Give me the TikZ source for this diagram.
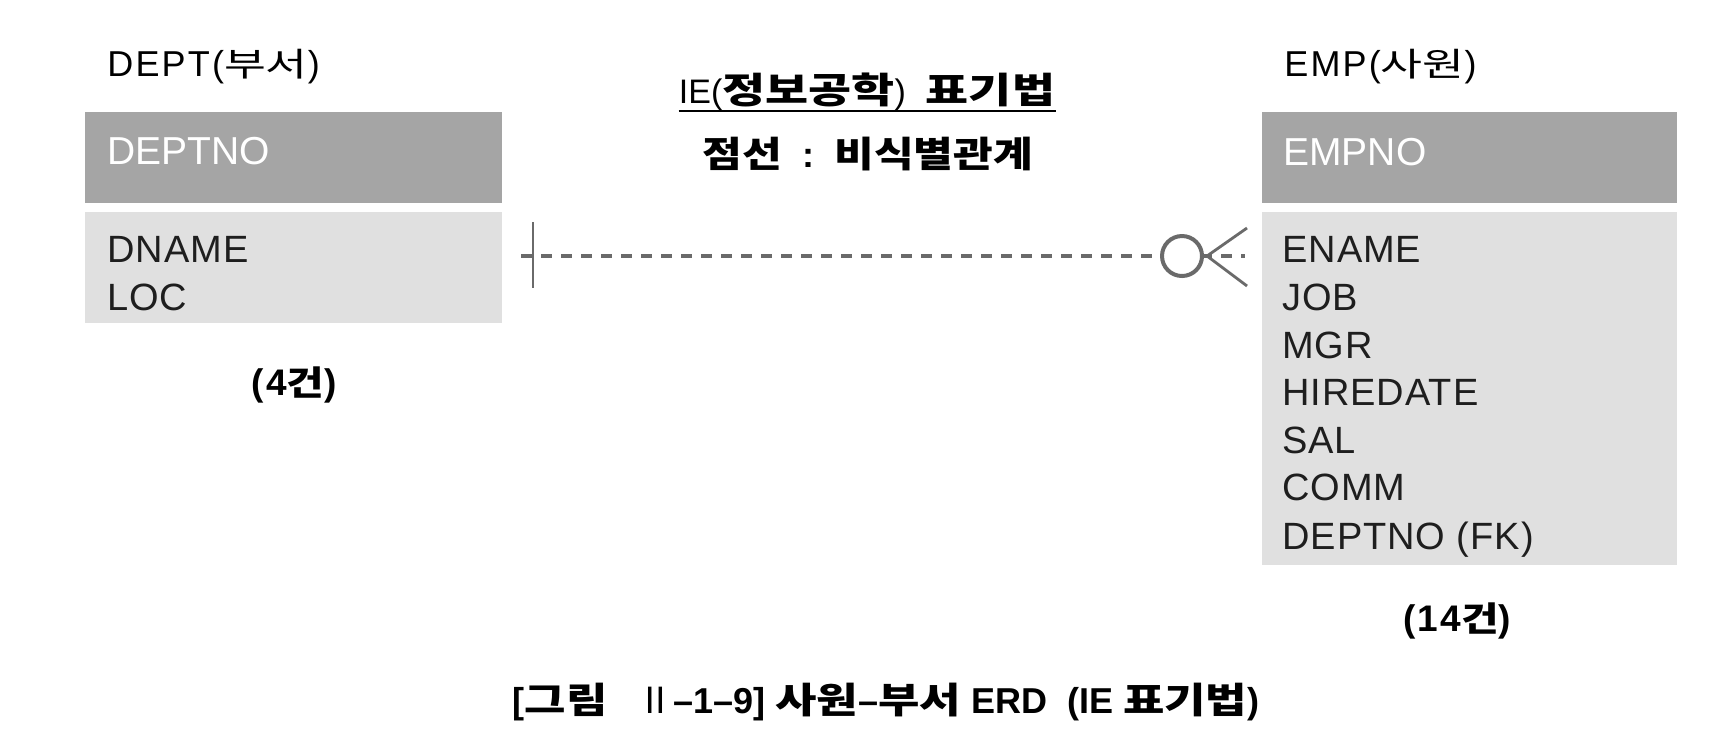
\documentclass[tikz,border=0pt]{standalone}
\usepackage{fontspec}
\usepackage{graphicx}
\usetikzlibrary{calc}
\setmainfont{Liberation Sans}
\newfontfamily\kr{Noto Sans CJK KR}
% \K[xscale]{size}{korean text}
\newcommand\K[3][1.22]{\scalebox{#1}[1]{\kr\fontsize{#2}{#2}\selectfont #3}}
\definecolor{hdrgray}{HTML}{A5A5A5}
\definecolor{bodygray}{HTML}{E0E0E0}
\definecolor{relgray}{HTML}{6A6A6A}
\definecolor{txt}{HTML}{1E1E1E}
\tikzset{
  hdrbox/.style={fill=hdrgray, draw=none, anchor=north west, inner sep=0, minimum height=45.5pt},
  bodybox/.style={fill=bodygray, draw=none, anchor=north west, inner sep=0},
  attr/.style={anchor=base west, inner sep=0, text=txt, font=\addfontfeature{LetterSpace=2.5}\fontsize{19}{23}\selectfont},
  keytxt/.style={anchor=base west, inner sep=0, text=white, font=\fontsize{19.5}{23}\selectfont},
  enttitle/.style={anchor=base west, inner sep=0, text=black, font=\addfontfeature{LetterSpace=6}\fontsize{18}{22}\selectfont},
  count/.style={inner sep=0, text=black, font=\bfseries\addfontfeature{LetterSpace=6}\fontsize{18.5}{20}\selectfont},
  boldtxt/.style={anchor=base, inner sep=0, text=black, font=\bfseries\fontsize{18}{20}\selectfont},
  rel/.style={draw=relgray, line width=1.75pt},
  relthin/.style={draw=relgray, line width=1.4pt},
}
\begin{document}
\begin{tikzpicture}[x=0.5pt,y=-0.5pt]
\useasboundingbox (0,0) rectangle (1722,752);
\fill[white] (0,0) rectangle (1722,752);

% entity boxes
\node[hdrbox, minimum width=208.5pt] (dh) at (85,112) {};
\node[bodybox, minimum width=208.5pt, minimum height=55.5pt] (db) at (85,212) {};
\node[hdrbox, minimum width=207.5pt] (eh) at (1262,112) {};
\node[bodybox, minimum width=207.5pt, minimum height=176.5pt] (eb) at (1262,212) {};

% titles
\node[enttitle] (dt) at (107,76) {DEPT(\K[1.38]{16.5}{부서})};
\node[enttitle] (et) at (1284,76) {EMP(\K[1.38]{16.5}{사원})};

% keys
\node[keytxt] (dk) at (107,164) {DEPTNO};
\node[keytxt] (ek) at (1283,165) {EMPNO};

% attributes
\node[attr] (a1) at (107,262) {DNAME};
\node[attr] (a2) at (107,310) {LOC};
\node[attr] (b1) at (1282,262) {ENAME};
\node[attr] (b2) at (1282,310) {JOB};
\node[attr] (b3) at (1282,358) {MGR};
\node[attr] (b4) at (1282,405) {HIREDATE};
\node[attr] (b5) at (1282,453) {SAL};
\node[attr] (b6) at (1282,500) {COMM};
\node[attr] (b7) at (1282,549) {DEPTNO (FK)};

% counts
\node[count] (dc) at (294,385) {(4\K[1.2]{17}{건})};
\node[count] (ec) at (1457,621) {(14\K[1.2]{17}{건})};

% notation text
\node[boldtxt] (nt) at (867,103) {{\mdseries\fontsize{17}{20}\selectfont IE(}\K[1.3]{18}{정보공학}{\mdseries\fontsize{17}{20}\selectfont)}\ \ \K[1.3]{18}{표기법}};
\draw[line width=1.2pt] ([yshift=-4pt]nt.base west) -- ([yshift=-4pt]nt.base east);
\node[boldtxt] (ns) at (868,167) {\K[1.2]{18}{점선} \ :\ \ \K[1.2]{18}{비식별관계}};

% caption
\node[boldtxt] (cap) at (886,713)
  {[\K[1.25]{18}{그림}\ \ \ {\mdseries\K[1]{18}{Ⅱ}}–1–9]\ \K[1.25]{18}{사원}–\K[1.25]{18}{부서}\ ERD\ \ (IE\ \K[1.25]{18}{표기법})};

% relationship
\coordinate (relL) at (521,256);
\coordinate (relR) at (1245,256);
\draw[rel, dash pattern=on 5.5pt off 4.5pt] (relL) -- (relR);
\draw[relthin] ($(relL)+(12,-34)$) -- ($(relL)+(12,32)$);
\node[circle, draw=relgray, fill=white, line width=2pt, minimum size=20pt, inner sep=0] (cf) at (1182,256) {};
\coordinate (crow) at ($(cf.east)+(3,0)$);
\draw[relthin] (crow) -- ($(crow)+(40,-28)$);
\draw[relthin] (crow) -- ($(crow)+(40,30)$);
\end{tikzpicture}
\end{document}
